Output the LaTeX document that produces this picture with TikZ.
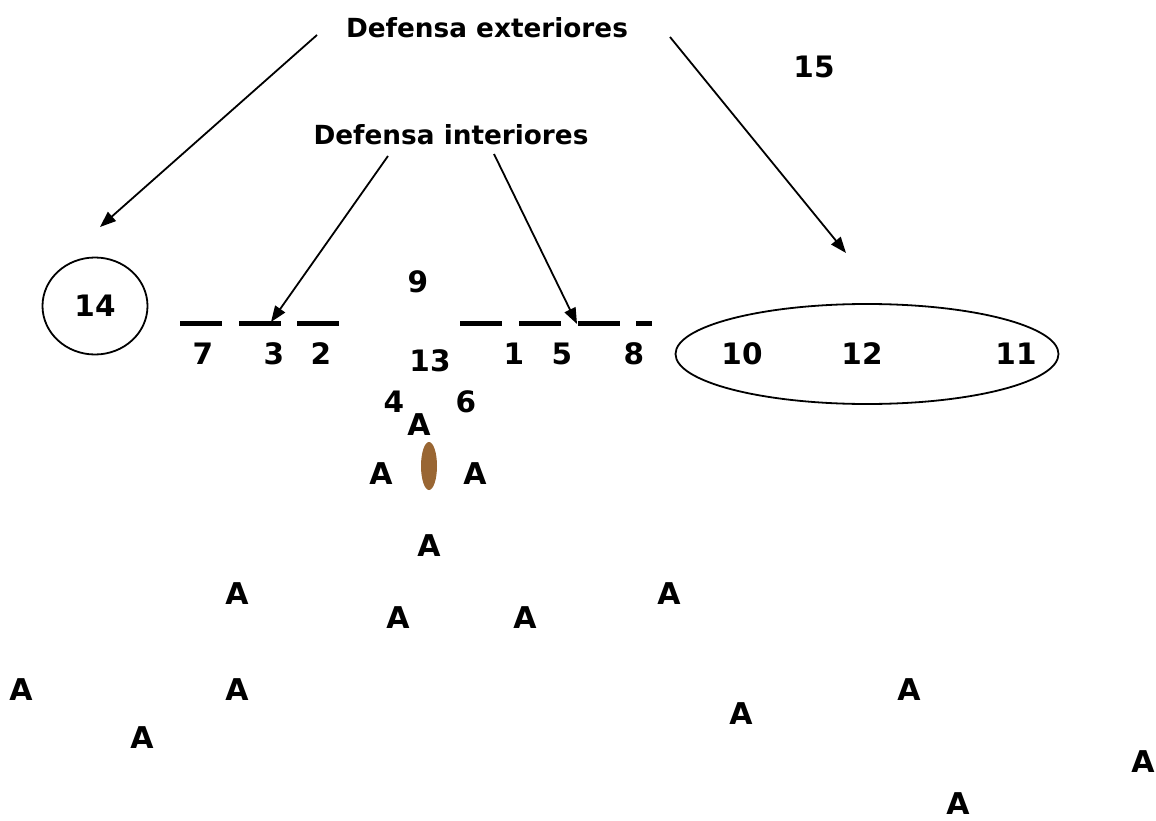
\documentclass[tikz,border=0pt]{standalone}
\usepackage{fontspec}
\setmainfont{DejaVu Sans}
\usetikzlibrary{arrows.meta,shapes.geometric}
\definecolor{ballbrown}{RGB}{153,102,51}
\tikzset{
  lbl/.style={font=\fontsize{26.3}{30}\selectfont\bfseries, inner sep=0pt},
  num/.style={font=\fontsize{29.5}{33}\selectfont\bfseries, inner sep=0pt},
  player/.style={font=\fontsize{30}{34}\selectfont\bfseries, inner sep=0pt},
  pointer/.style={line width=1.8pt, -{Triangle[length=16pt,width=12pt]}},
  lineman/.style={line width=5pt},
  zone/.style={draw, line width=1.8pt, ellipse, inner sep=0pt}
}
\begin{document}
\begin{tikzpicture}[x=1pt,y=-1pt]
\useasboundingbox (0,0) rectangle (1156,821);

% headings
\node[lbl] (ext) at (487,28) {Defensa exteriores};
\node[lbl] (int) at (451,135) {Defensa interiores};
\node[num] (n15) at (814,67) {15};

% outer zones
\node[zone, minimum width=105pt, minimum height=97pt] (zl) at (95,306) {};
\node[num] (n14) at (95,306) {14};
\node[zone, minimum width=383pt, minimum height=100pt] (zr) at (867,354) {};
\node[num] (n10) at (742,354) {10};
\node[num] (n12) at (862,354) {12};
\node[num] (n11) at (1016,354) {11};

% line of scrimmage
\coordinate (d1a) at (180,323); \coordinate (d1b) at (222,323);
\coordinate (d2a) at (239,323); \coordinate (d2b) at (281,323);
\coordinate (d3a) at (297,323); \coordinate (d3b) at (339,323);
\coordinate (d4a) at (460,323); \coordinate (d4b) at (502,323);
\coordinate (d5a) at (519,323); \coordinate (d5b) at (561,323);
\coordinate (d6a) at (578,323); \coordinate (d6b) at (620,323);
\coordinate (d7a) at (636,323); \coordinate (d7b) at (652,323);
\foreach \i in {1,...,7} \draw[lineman] (d\i a) -- (d\i b);

\node[num] (n7) at (203,354) {7};
\node[num] (n3) at (274,354) {3};
\node[num] (n2) at (321,354) {2};
\node[num] (n1) at (514,354) {1};
\node[num] (n5) at (562,354) {5};
\node[num] (n8) at (634,354) {8};
\node[num] (n9) at (418,282) {9};
\node[num] (n13) at (430,361) {13};
\node[num] (n4) at (394,402) {4};
\node[num] (n6) at (466,402) {6};

% ball
\node[ellipse, fill=ballbrown, minimum width=16pt, minimum height=48pt, inner sep=0pt] (ball) at (429,466) {};

% attackers
\node[player] (a1) at (419,425) {A};
\node[player] (a2) at (381,474) {A};
\node[player] (a3) at (475,474) {A};
\node[player] (a4) at (429,546) {A};
\node[player] (a5) at (237,594) {A};
\node[player] (a6) at (669,594) {A};
\node[player] (a7) at (398,618) {A};
\node[player] (a8) at (525,618) {A};
\node[player] (a9) at (21,690) {A};
\node[player] (a10) at (237,690) {A};
\node[player] (a11) at (909,690) {A};
\node[player] (a12) at (741,714) {A};
\node[player] (a13) at (142,738) {A};
\node[player] (a14) at (1143,762) {A};
\node[player] (a15) at (958,804) {A};

% pointers
\coordinate (e1) at (317,35);  \coordinate (t1) at (100,227);
\coordinate (e2) at (670,37);  \coordinate (t2) at (846,253);
\coordinate (i1) at (388,156); \coordinate (t3) at (271,322);
\coordinate (i2) at (494,154); \coordinate (t4) at (577,324);
\draw[pointer] (e1) -- (t1);
\draw[pointer] (e2) -- (t2);
\draw[pointer] (i1) -- (t3);
\draw[pointer] (i2) -- (t4);
\end{tikzpicture}
\end{document}
